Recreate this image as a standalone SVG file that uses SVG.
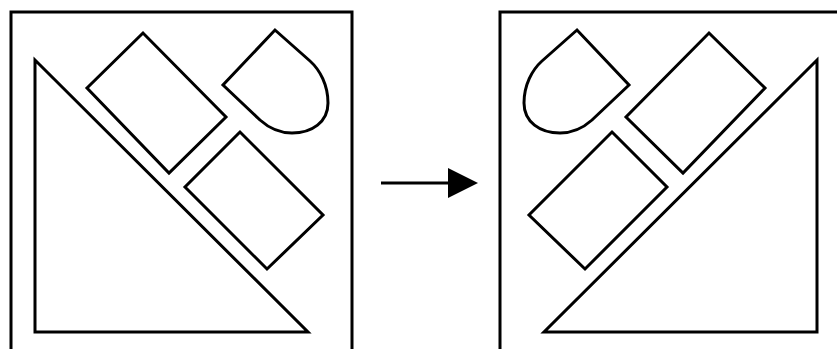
<svg xmlns="http://www.w3.org/2000/svg" width="837" height="349" viewBox="0 0 837 349">
<style>
.s{fill:none;stroke:#000;stroke-width:3;stroke-linejoin:miter}
.f{fill:none;stroke:#000;stroke-width:3}
</style>
<rect width="837" height="349" fill="#fff"/>
<g id="left-panel">
<g id="left-frame"><path class="f" d="M11,360 L11,12 L352,12 L352,360"/></g>
<g id="left-triangle"><path class="s" d="M35,60 L35,332 L308,332 Z"/></g>
<g id="left-rect-upper"><path class="s" d="M143,33 L87,88 L169,173 L226,117 Z"/></g>
<g id="left-rect-lower"><path class="s" d="M240,132 L185,187 L267,269 L323,215 Z"/></g>
<g id="left-dshape"><path class="s" d="M275,30 L310,61 C320,70 328,85 328,103 C328,122 312,133 292,133 C280,133 270,129 260,120 L223,85 Z"/></g>
</g>
<g id="right-panel" transform="matrix(-1,0,0,1,852,0)">
<g id="right-frame"><path class="f" d="M11,360 L11,12 L352,12 L352,360"/></g>
<g id="right-triangle"><path class="s" d="M35,60 L35,332 L308,332 Z"/></g>
<g id="right-rect-upper"><path class="s" d="M143,33 L87,88 L169,173 L226,117 Z"/></g>
<g id="right-rect-lower"><path class="s" d="M240,132 L185,187 L267,269 L323,215 Z"/></g>
<g id="right-dshape"><path class="s" d="M275,30 L310,61 C320,70 328,85 328,103 C328,122 312,133 292,133 C280,133 270,129 260,120 L223,85 Z"/></g>
</g>
<g id="connectors">
<line x1="381" y1="183" x2="449" y2="183" stroke="#000" stroke-width="3"/>
<path d="M448,168 L478,183 L448,198 Z" fill="#000"/>
</g>
</svg>
